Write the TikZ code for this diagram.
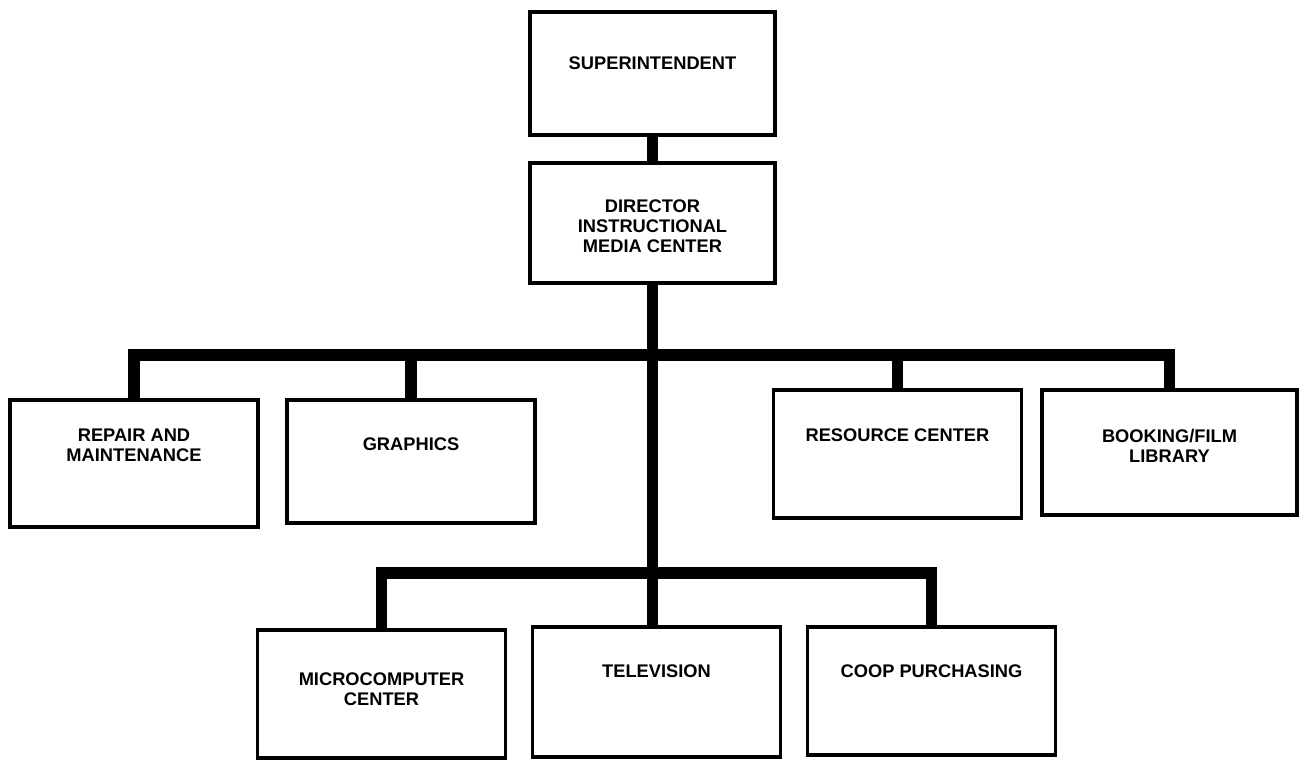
\documentclass[tikz,border=0pt]{standalone}
\usepackage{fontspec}
\setmainfont{Liberation Sans}
\usetikzlibrary{positioning}

\tikzset{
  unit/.style={draw, line width=2.2pt, minimum width=4.96cm, minimum height=2.5cm, inner sep=0pt},
  caption/.style={anchor=north, align=center, inner sep=0pt, font=\bfseries\fontsize{10.4}{11.4}\selectfont},
  wire/.style={line width=6.6pt, line join=miter}
}

\begin{document}
\begin{tikzpicture}
\useasboundingbox (0,0) rectangle (26.04,-15.2);

% top of the chart
\node[unit, minimum width=4.9cm, minimum height=2.46cm] (sup) at (13.05,-1.47) {};
\node[unit, minimum width=4.9cm, minimum height=2.4cm] (dir) at (13.05,-4.46) {};
\node[caption, below=0.92cm of sup.north] (sup-t) {SUPERINTENDENT};
\node[caption, below=0.77cm of dir.north] (dir-t) {DIRECTOR\\INSTRUCTIONAL\\MEDIA CENTER};

% first row of units
\node[unit, minimum height=2.54cm] (rep) at (2.68,-9.27) {};
\node[unit, minimum height=2.46cm] (gra) at (8.22,-9.23) {};
\node[unit, minimum height=2.56cm] (res) at (17.95,-9.08) {};
\node[unit, minimum width=5.1cm] (boo) at (23.39,-9.05) {};
\node[caption, below=0.61cm of rep.north] (rep-t) {REPAIR AND\\MAINTENANCE};
\node[caption, below=0.79cm of gra.north] (gra-t) {GRAPHICS};
\node[caption, below=0.81cm of res.north] (res-t) {RESOURCE CENTER};
\node[caption, below=0.81cm of boo.north] (boo-t) {BOOKING/FILM\\LIBRARY};

% second row of units
\node[unit, minimum height=2.56cm] (mic) at (7.63,-13.88) {};
\node[unit, minimum height=2.6cm] (tel) at (13.13,-13.84) {};
\node[unit, minimum height=2.56cm] (coo) at (18.63,-13.82) {};
\node[caption, below=0.89cm of mic.north] (mic-t) {MICROCOMPUTER\\CENTER};
\node[caption, below=0.79cm of tel.north] (tel-t) {TELEVISION};
\node[caption, below=0.79cm of coo.north] (coo-t) {COOP PURCHASING};

% junctions on the trunk
\coordinate (hub1) at (dir.south |- 0,-7.1);
\coordinate (hub2) at (dir.south |- 0,-11.46);

\draw[wire] (sup) -- (dir);
\draw[wire] (dir.south) -- (dir.south |- tel.north);
\draw[wire] (rep.north) |- (hub1) -| (boo.north);
\draw[wire] (gra.north) |- (hub1);
\draw[wire] (res.north) |- (hub1);
\draw[wire] (mic.north) |- (hub2) -| (coo.north);
\end{tikzpicture}
\end{document}
